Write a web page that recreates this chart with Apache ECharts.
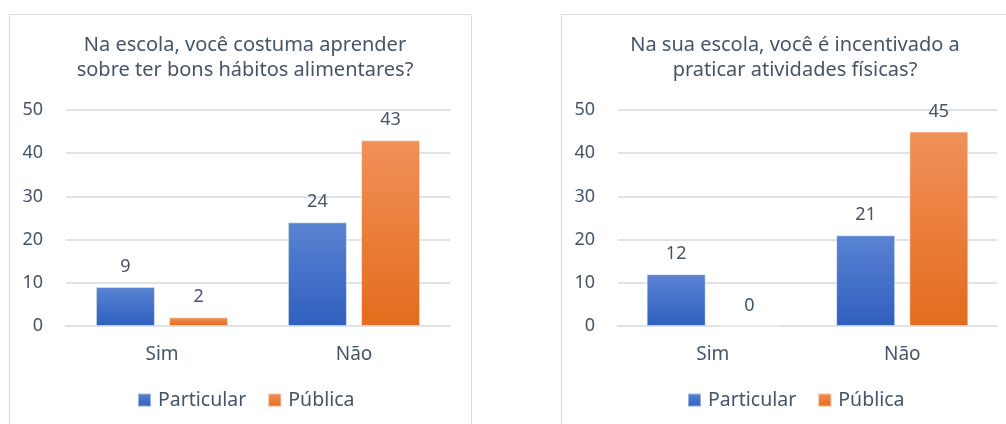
<!DOCTYPE html>
<html style='height: 100%'>
<head>
    <meta charset='utf-8'>
    <script src="https://cdn.jsdelivr.net/npm/echarts@6/dist/echarts.min.js"></script>
</head>
<body style='height: 100%; margin: 0; background: #fff'>
    <div id='container' style='width: 1006px; height: 424px'></div>
    <script type="text/javascript">
var categories = ['Sim', 'Não'];
var seriesNames = ['Particular', 'Pública'];
var title1 = 'Na escola, você costuma aprender\nsobre ter bons hábitos alimentares?';
var title2 = 'Na sua escola, você é incentivado a\npraticar atividades físicas?';
var particular1 = [9, 24];
var publica1 = [2, 43];
var particular2 = [12, 21];
var publica2 = [0, 45];

var txt = '#475467';
var font = 'Noto Sans';

var blueGrad = {type: 'linear', x: 0, y: 0, x2: 0, y2: 1,
    colorStops: [{offset: 0, color: '#5a83d2'}, {offset: 1, color: '#2f5fbf'}]};
var orangeGrad = {type: 'linear', x: 0, y: 0, x2: 0, y2: 1,
    colorStops: [{offset: 0, color: '#f1905a'}, {offset: 1, color: '#e36b1c'}]};

function makeSeries(name, data, idx, grad, color) {
    return {
        name: name,
        type: 'bar',
        xAxisIndex: idx,
        yAxisIndex: idx,
        data: data,
        barWidth: 59,
        barGap: '24%',
        color: color,
        itemStyle: {color: grad, borderColor: 'rgba(255,255,255,0.45)', borderWidth: 1},
        label: {show: true, position: 'top', distance: 11, color: txt, fontSize: 18, fontFamily: font}
    };
}

function yAx(idx) {
    return {
        type: 'value', gridIndex: idx, min: 0, max: 50, interval: 10,
        axisLine: {show: false}, axisTick: {show: false},
        axisLabel: {color: txt, fontSize: 18, fontFamily: font, margin: 23},
        splitLine: {lineStyle: {color: '#dfe3e8', width: 2}}
    };
}

function xAx(idx) {
    return {
        type: 'category', gridIndex: idx, data: categories,
        axisLine: {lineStyle: {color: '#dfe3e8', width: 2}},
        axisTick: {show: false},
        axisLabel: {color: txt, fontSize: 19, fontFamily: font, margin: 19}
    };
}

function legendAt(left) {
    return {
        data: seriesNames, left: left, top: 390, padding: 0,
        itemWidth: 13, itemHeight: 13, itemGap: 21, icon: 'rect',
        textStyle: {color: txt, fontSize: 19.5, fontFamily: font, padding: [0, 0, 0, 2]}
    };
}

var myChart = echarts.init(document.getElementById('container'));
var option = {
    animation: false,
    graphic: [
        {type: 'rect', shape: {x: 9.5, y: 14.5, width: 462, height: 430}, style: {fill: 'none', stroke: '#d9dde3', lineWidth: 1}},
        {type: 'rect', shape: {x: 561.5, y: 14.5, width: 460, height: 430}, style: {fill: 'none', stroke: '#d9dde3', lineWidth: 1}}
    ],
    title: [
        {text: title1, left: 240, top: 28, textAlign: 'center',
            textStyle: {color: txt, fontSize: 20, fontWeight: 'normal', fontFamily: font, lineHeight: 25}},
        {text: title2, left: 790, top: 28, textAlign: 'center',
            textStyle: {color: txt, fontSize: 20, fontWeight: 'normal', fontFamily: font, lineHeight: 25}}
    ],
    legend: [legendAt(137), legendAt(687)],
    grid: [
        {left: 66, right: 556, top: 110, bottom: 98},
        {left: 618, right: 9, top: 110, bottom: 98}
    ],
    xAxis: [xAx(0), xAx(1)],
    yAxis: [yAx(0), yAx(1)],
    series: [
        makeSeries('Particular', particular1, 0, blueGrad, '#3a67c6'),
        makeSeries('Pública', publica1, 0, orangeGrad, '#ea7a33'),
        makeSeries('Particular', particular2, 1, blueGrad, '#3a67c6'),
        makeSeries('Pública', publica2, 1, orangeGrad, '#ea7a33')
    ]
};
myChart.setOption(option);
    </script>
</body>
</html>
